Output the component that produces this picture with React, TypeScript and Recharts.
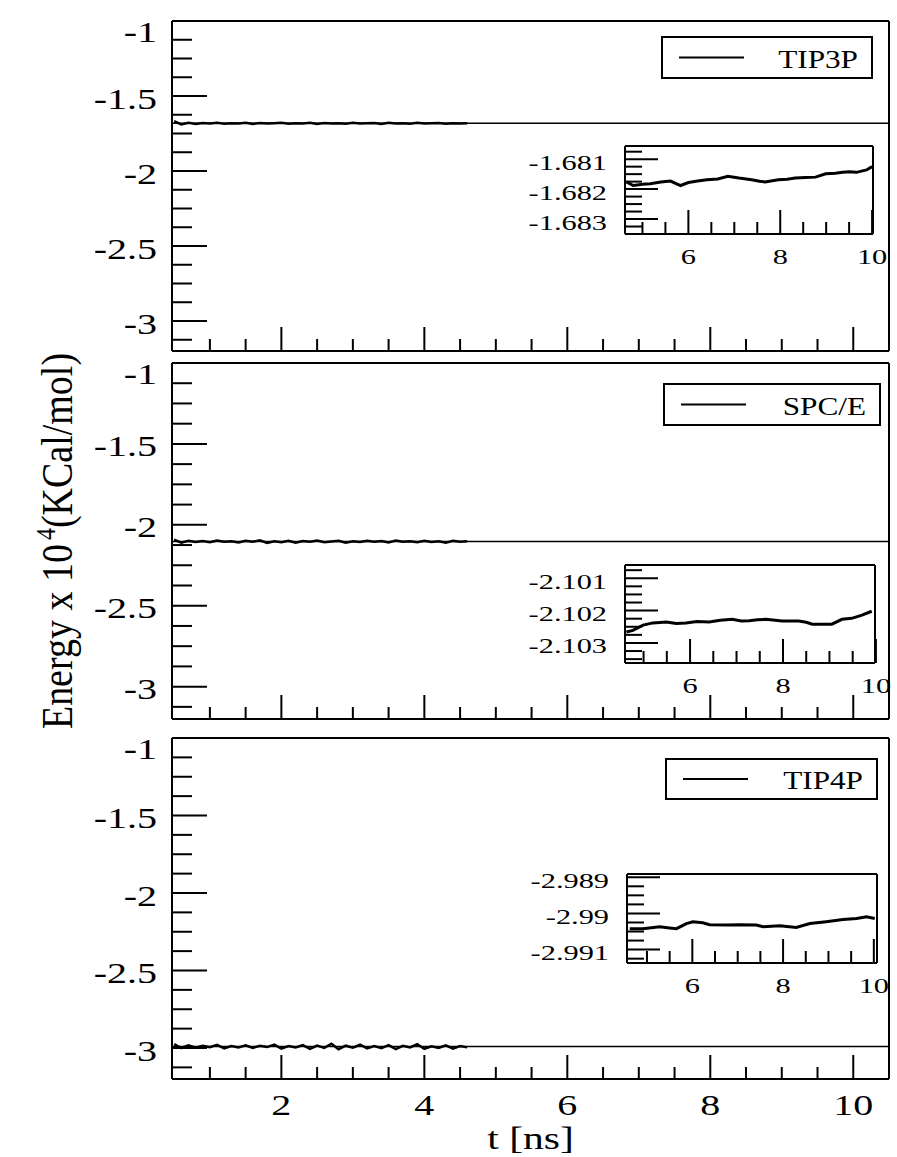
import React from 'react';
import { LineChart, Line, XAxis, YAxis, ReferenceLine, Legend } from 'recharts';

const SERIF = 'Liberation Serif, Times New Roman, serif';
const STRETCH = 1.38;

// main panels: time in ns, energy in 10^4 kcal/mol
const mainTime = [
  0.5, 0.6, 0.7, 0.8, 0.9, 1.0, 1.1, 1.2, 1.3, 1.4, 1.5, 1.6, 1.7, 1.8,
  1.9, 2.0, 2.1, 2.2, 2.3, 2.4, 2.5, 2.6, 2.7, 2.8, 2.9, 3.0, 3.1, 3.2,
  3.3, 3.4, 3.5, 3.6, 3.7, 3.8, 3.9, 4.0, 4.1, 4.2, 4.3, 4.4, 4.5, 4.6,
];
const tip3pEnergy = [
  -1.668, -1.690, -1.678, -1.686, -1.680, -1.684, -1.679,
  -1.685, -1.681, -1.683, -1.678, -1.686, -1.680, -1.684,
  -1.682, -1.679, -1.685, -1.681, -1.684, -1.678, -1.686,
  -1.680, -1.683, -1.681, -1.685, -1.679, -1.684, -1.682,
  -1.680, -1.686, -1.679, -1.683, -1.681, -1.685, -1.678,
  -1.684, -1.682, -1.680, -1.685, -1.681, -1.683, -1.682,
];
const spceEnergy = [
  -2.092, -2.110, -2.098, -2.106, -2.100, -2.108, -2.097,
  -2.105, -2.101, -2.109, -2.099, -2.104, -2.096, -2.112,
  -2.102, -2.107, -2.098, -2.110, -2.100, -2.105, -2.097,
  -2.108, -2.103, -2.099, -2.111, -2.101, -2.106, -2.098,
  -2.104, -2.100, -2.109, -2.097, -2.105, -2.102, -2.108,
  -2.099, -2.106, -2.101, -2.110, -2.098, -2.104, -2.102,
];
const tip4pEnergy = [
  -2.975, -3.000, -2.982, -2.998, -2.985, -2.995, -2.980,
  -3.002, -2.988, -2.996, -2.983, -2.999, -2.986, -2.994,
  -2.978, -3.004, -2.987, -2.997, -2.981, -3.006, -2.984,
  -2.999, -2.972, -3.008, -2.985, -2.998, -2.979, -3.003,
  -2.988, -3.001, -2.982, -3.007, -2.986, -2.996, -2.976,
  -3.005, -2.989, -3.000, -2.983, -3.004, -2.987, -2.996,
];
const tip3pMean = -1.6818;
const spceMean = -2.1024;
const tip4pMean = -2.9903;

const mainXMajor = [2, 4, 6, 8, 10];
const mainXMinor = [1, 1.5, 2.5, 3, 3.5, 4.5, 5, 5.5, 6.5, 7, 7.5, 8.5, 9, 9.5];
const mainYMajor = [-1, -1.5, -2, -2.5, -3];
const mainYMinor = [
  -1.125, -1.25, -1.375, -1.625, -1.75, -1.875, -2.125, -2.25, -2.375,
  -2.625, -2.75, -2.875, -3.125,
];

// insets (t from ~4.6 to 10 ns)
const tip3pInsetTime = [
  4.65, 4.8, 5.0, 5.17, 5.4, 5.61, 5.83, 6.0, 6.2, 6.4, 6.64, 6.86, 7.1, 7.38,
  7.55, 7.67, 7.96, 8.15, 8.33, 8.55, 8.77, 8.99, 9.2, 9.36, 9.5, 9.66, 9.88, 10.0,
];
const tip3pInsetEnergy = [
  -1.68176, -1.68188, -1.68184, -1.68182, -1.68176, -1.68173, -1.68188,
  -1.68178, -1.68173, -1.68169, -1.68166, -1.68157, -1.68163, -1.68169,
  -1.68174, -1.68176, -1.68169, -1.68167, -1.68163, -1.68161, -1.6816,
  -1.68149, -1.68147, -1.68144, -1.68142, -1.68144, -1.68136, -1.68125,
];
const spceInsetTime = [
  4.63, 4.77, 4.99, 5.2, 5.49, 5.7, 5.91, 6.15, 6.41, 6.65, 6.91, 7.1,
  7.27, 7.45, 7.63, 7.98, 8.34, 8.5, 8.63, 9.05, 9.27, 9.48, 9.7, 9.91,
];
const spceInsetEnergy = [
  -2.10266, -2.10261, -2.10245, -2.10238, -2.10235, -2.1024, -2.10238, -2.10234,
  -2.10235, -2.1023, -2.10227, -2.10232, -2.10231, -2.10228, -2.10227, -2.10232,
  -2.10232, -2.10236, -2.10242, -2.10242, -2.10227, -2.10224, -2.10214, -2.10202,
];
const tip4pInsetTime = [
  4.62, 4.91, 5.28, 5.5, 5.65, 5.87, 6.01, 6.23, 6.38, 6.75, 7.04,
  7.41, 7.56, 7.93, 8.29, 8.59, 8.95, 9.32, 9.62, 9.84, 10.02,
];
const tip4pInsetEnergy = [
  -2.99042, -2.99042, -2.99037, -2.9904, -2.99042, -2.99028, -2.99023,
  -2.99026, -2.99031, -2.99032, -2.99031, -2.99032, -2.99037, -2.99034,
  -2.99039, -2.99028, -2.99023, -2.99017, -2.99014, -2.99009, -2.99014,
];

const insetXMajor = [6, 8, 10];
const insetXMinor = [5, 5.5, 6.5, 7, 7.5, 8.5, 9, 9.5];
const tip3pInsetYMajor = [-1.681, -1.682, -1.683];
const tip3pInsetYMinor = [-1.68075, -1.68125, -1.6815, -1.68175, -1.68225, -1.6825, -1.68275, -1.68325];
const spceInsetYMajor = [-2.101, -2.102, -2.103];
const spceInsetYMinor = [-2.10075, -2.10125, -2.1015, -2.10175, -2.10225, -2.1025, -2.10275, -2.10325, -2.1035];
const tip4pInsetYMajor = [-2.989, -2.99, -2.991];
const tip4pInsetYMinor = [-2.98925, -2.9895, -2.98975, -2.99025, -2.9905, -2.99075, -2.99125];

const AXIS = { stroke: '#000', strokeWidth: 2 };
const TEXT_STYLE = { fontFamily: SERIF };
const isIn = (v: number, list: number[]) => list.some((m) => Math.abs(m - v) < 1e-7);

function yTick(majors: number[], majorLen: number, minorLen: number, fontSize: number, gap: number, top?: number) {
  return (props: any) => {
    const { x, y, payload } = props;
    const v = payload.value;
    const major = isIn(v, majors);
    const dy = top !== undefined && Math.abs(v - top) < 1e-7 ? 11 : 3;
    return (
      <g>
        <line x1={x} x2={x + (major ? majorLen : minorLen)} y1={y} y2={y} stroke="#000" strokeWidth={2} />
        {major && (
          <text
            transform={`translate(${x - gap},${y + dy}) scale(${STRETCH},1)`}
            textAnchor="end"
            dominantBaseline="central"
            style={TEXT_STYLE}
            fontSize={fontSize}
            fill="#000"
          >
            {String(v)}
          </text>
        )}
      </g>
    );
  };
}

function xTick(majors: number[], majorLen: number, minorLen: number, fontSize: number, offset: number, labels: boolean) {
  return (props: any) => {
    const { x, y, payload } = props;
    const v = payload.value;
    const major = isIn(v, majors);
    return (
      <g>
        <line x1={x} x2={x} y1={y} y2={y - (major ? majorLen : minorLen)} stroke="#000" strokeWidth={2} />
        {major && labels && (
          <text
            transform={`translate(${x},${y + offset}) scale(${STRETCH},1)`}
            textAnchor="middle"
            dominantBaseline="central"
            style={TEXT_STYLE}
            fontSize={fontSize}
            fill="#000"
          >
            {String(v)}
          </text>
        )}
      </g>
    );
  };
}

function legendBox(width: number, height: number) {
  return (props: any) => {
    const item = props.payload && props.payload[0];
    return (
      <svg width={width} height={height} style={{ display: 'block' }}>
        <rect x={1} y={1} width={width - 2} height={height - 2} fill="#fff" stroke="#000" strokeWidth={2} />
        <line x1={18} x2={83} y1={height / 2} y2={height / 2} stroke="#000" strokeWidth={2} />
        <text
          transform={`translate(${width - 15},${height / 2 + 2}) scale(1.25,1)`}
          textAnchor="end"
          dominantBaseline="central"
          style={TEXT_STYLE}
          fontSize={25}
          fill="#000"
        >
          {item ? item.value : ''}
        </text>
      </svg>
    );
  };
}

function energyLabel(props: any) {
  const vb = props.viewBox;
  const cy = vb.y + vb.height / 2;
  return (
    <text
      transform={`translate(72,${cy}) rotate(-90) scale(1,1.15)`}
      textAnchor="middle"
      style={TEXT_STYLE}
      fontSize={38}
      fill="#000"
    >
      Energy x 10
      <tspan dx={4} dy={-15} fontSize={24}>4</tspan>
      <tspan dy={15}>(KCal/mol)</tspan>
    </text>
  );
}

function timeLabel(props: any) {
  const vb = props.viewBox;
  return (
    <text
      transform={`translate(${vb.x + vb.width / 2},${vb.y + 70}) scale(1.3,1)`}
      textAnchor="middle"
      style={TEXT_STYLE}
      fontSize={32}
      fill="#000"
    >
      t [ns]
    </text>
  );
}

type PanelProps = {
  name: string;
  energy: number[];
  mean: number;
  plotTop: number;
  plotHeight: number;
  legend: { left: number; top: number; width: number; height: number };
  bottom?: boolean;
  yLabel?: boolean;
};

function Panel({ name, energy, mean, plotTop, plotHeight, legend, bottom, yLabel }: PanelProps) {
  const rows = mainTime.map((t, i) => ({ t, e: energy[i] }));
  const bottomMargin = bottom ? 76 : 10;
  return (
    <div style={{ position: 'absolute', left: 0, top: plotTop - 10 }}>
      <LineChart width={897} height={plotHeight + 10 + bottomMargin} data={rows} margin={{ top: 9, right: 7, bottom: bottomMargin - 1, left: 0 }}>
        <XAxis
          dataKey="t"
          type="number"
          domain={[0.47, 10.5]}
          allowDataOverflow
          ticks={[...mainXMajor, ...mainXMinor]}
          interval={0}
          height={1}
          tickSize={0}
          tickMargin={0}
          tickLine={false}
          axisLine={AXIS}
          tick={xTick(mainXMajor, 24, 12, 29, 26, !!bottom)}
          label={bottom ? timeLabel : undefined}
        />
        <XAxis xAxisId="top" orientation="top" type="number" domain={[0.47, 10.5]} allowDataOverflow height={1} tick={false} tickLine={false} axisLine={AXIS} />
        <YAxis
          type="number"
          domain={[-3.2, -1]}
          allowDataOverflow
          ticks={[...mainYMajor, ...mainYMinor]}
          interval={0}
          width={172}
          tickSize={0}
          tickMargin={0}
          tickLine={false}
          axisLine={AXIS}
          tick={yTick(mainYMajor, 35, 20, 29, 15, -1)}
          label={yLabel ? energyLabel : undefined}
        />
        <YAxis yAxisId="right" orientation="right" type="number" domain={[-3.2, -1]} allowDataOverflow width={1} tick={false} tickLine={false} axisLine={AXIS} />
        <ReferenceLine y={mean} stroke="#000" strokeWidth={1.5} />
        <Line type="linear" dataKey="e" name={name} stroke="#000" strokeWidth={2.5} dot={false} isAnimationActive={false} />
        <Legend
          content={legendBox(legend.width, legend.height)}
          layout="horizontal"
          verticalAlign="middle"
          align="center"
          wrapperStyle={{ left: legend.left, top: legend.top - (plotTop - 10), width: legend.width, height: legend.height, margin: 0 }}
        />
      </LineChart>
    </div>
  );
}

type InsetProps = {
  time: number[];
  energy: number[];
  xDomain: [number, number];
  yDomain: [number, number];
  yMajor: number[];
  yMinor: number[];
  box: { left: number; top: number; width: number; height: number };
};

function Inset({ time, energy, xDomain, yDomain, yMajor, yMinor, box }: InsetProps) {
  const rows = time.map((t, i) => ({ t, e: energy[i] }));
  return (
    <div style={{ position: 'absolute', left: box.left - 110, top: box.top - 10 }}>
      <LineChart width={110 + box.width + 20} height={box.height + 50} data={rows} margin={{ top: 9, right: 19, bottom: 39, left: 0 }}>
        <XAxis
          dataKey="t"
          type="number"
          domain={xDomain}
          allowDataOverflow
          ticks={[...insetXMajor, ...insetXMinor]}
          interval={0}
          height={1}
          tickSize={0}
          tickMargin={0}
          tickLine={false}
          axisLine={AXIS}
          tick={xTick(insetXMajor, 24, 12, 22, 23, true)}
        />
        <XAxis xAxisId="top" orientation="top" type="number" domain={xDomain} allowDataOverflow height={1} tick={false} tickLine={false} axisLine={AXIS} />
        <YAxis
          type="number"
          domain={yDomain}
          allowDataOverflow
          ticks={[...yMajor, ...yMinor]}
          interval={0}
          width={110}
          tickSize={0}
          tickMargin={0}
          tickLine={false}
          axisLine={AXIS}
          tick={yTick(yMajor, 33, 17, 22, 18)}
        />
        <YAxis yAxisId="right" orientation="right" type="number" domain={yDomain} allowDataOverflow width={1} tick={false} tickLine={false} axisLine={AXIS} />
        <Line type="linear" dataKey="e" stroke="#000" strokeWidth={3} dot={false} isAnimationActive={false} />
      </LineChart>
    </div>
  );
}

export default function App() {
  return (
    <div style={{ position: 'absolute', left: 0, top: 0, width: 897, height: 1157, background: '#fff', overflow: 'hidden' }}>
      <Panel name="TIP3P" energy={tip3pEnergy} mean={tip3pMean} plotTop={21} plotHeight={330} legend={{ left: 661, top: 36, width: 212, height: 43 }} />
      <Panel name="SPC/E" energy={spceEnergy} mean={spceMean} plotTop={363} plotHeight={356} legend={{ left: 663, top: 383, width: 218, height: 43 }} yLabel />
      <Panel name="TIP4P" energy={tip4pEnergy} mean={tip4pMean} plotTop={738} plotHeight={341} legend={{ left: 665, top: 758, width: 213, height: 42 }} bottom />
      <Inset
        time={tip3pInsetTime}
        energy={tip3pInsetEnergy}
        xDomain={[4.62, 10.02]}
        yDomain={[-1.6835, -1.68056]}
        yMajor={tip3pInsetYMajor}
        yMinor={tip3pInsetYMinor}
        box={{ left: 625, top: 146, width: 248, height: 88 }}
      />
      <Inset
        time={spceInsetTime}
        energy={spceInsetEnergy}
        xDomain={[4.6, 9.98]}
        yDomain={[-2.10362, -2.10059]}
        yMajor={spceInsetYMajor}
        yMinor={spceInsetYMinor}
        box={{ left: 625, top: 565, width: 250, height: 98 }}
      />
      <Inset
        time={tip4pInsetTime}
        energy={tip4pInsetEnergy}
        xDomain={[4.56, 10.07]}
        yDomain={[-2.99137, -2.98891]}
        yMajor={tip4pInsetYMajor}
        yMinor={tip4pInsetYMinor}
        box={{ left: 627, top: 874, width: 250, height: 89 }}
      />
    </div>
  );
}
